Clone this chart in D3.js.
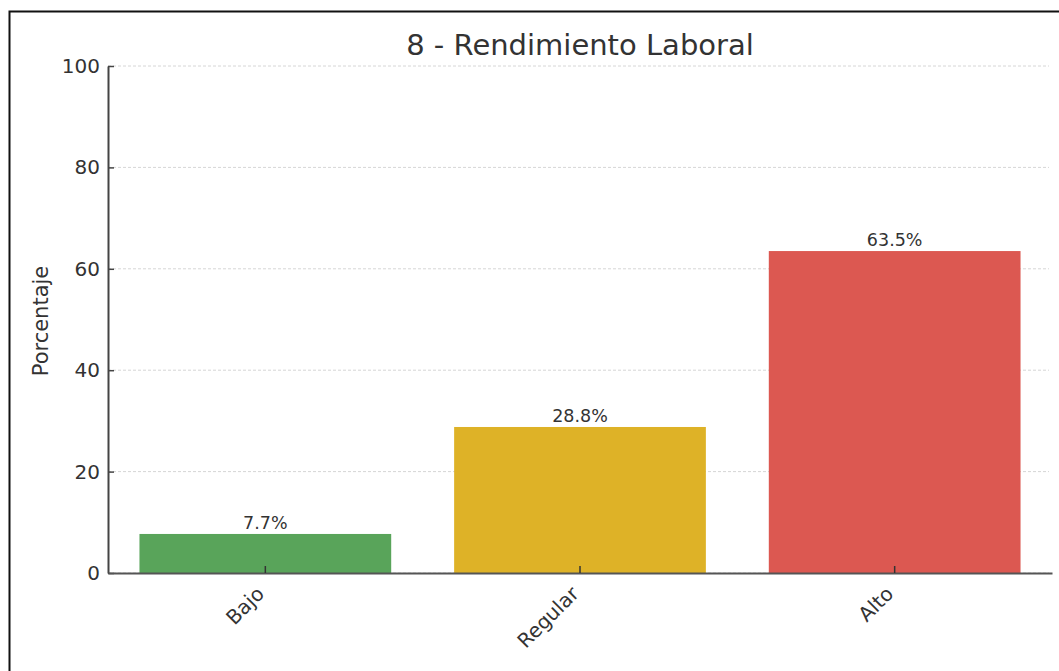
<!DOCTYPE html>
<html>
<head>
<meta charset="utf-8">
<script src="https://cdn.jsdelivr.net/npm/d3@7"></script>
<style>
  body { margin: 0; background: #fff; }
  svg { display: block; font-family: "DejaVu Sans", sans-serif; }
</style>
</head>
<body>
<div id="chart"></div>
<script>
// Datos del gráfico
const categories = ["Bajo", "Regular", "Alto"];
const values = [7.7, 28.8, 63.5];
const barColors = ["#59a45a", "#deb227", "#dc5851"];
const yTicks = [0, 20, 40, 60, 80, 100];
const chartTitle = "8 - Rendimiento Laboral";
const yLabel = "Porcentaje";

const W = 1059, H = 671;
const margin = { top: 66, right: 7, bottom: 98, left: 108 };
const width = W - margin.left - margin.right;
const height = H - margin.top - margin.bottom;

const svg = d3.select("#chart").append("svg")
  .attr("width", W)
  .attr("height", H);

// Marco (solo arriba e izquierda, como en la imagen recortada)
svg.append("path")
  .attr("d", `M9.5,${H} L9.5,11.5 L${W},11.5`)
  .attr("fill", "none")
  .attr("stroke", "#111")
  .attr("stroke-width", 2);

const g = svg.append("g")
  .attr("transform", `translate(${margin.left},${margin.top})`);

const x = d3.scaleBand()
  .domain(categories)
  .range([0, width])
  .paddingInner(0.2)
  .paddingOuter(0.1);

const y = d3.scaleLinear()
  .domain([0, 100])
  .range([height, 0]);

// Líneas de cuadrícula
g.append("g")
  .selectAll("line")
  .data(yTicks)
  .enter()
  .append("line")
  .attr("x1", 0)
  .attr("x2", width - 3)
  .attr("y1", (d) => y(d))
  .attr("y2", (d) => y(d))
  .attr("stroke", "#d6d6d6")
  .attr("stroke-width", 1)
  .attr("stroke-dasharray", "3,2");

// Barras
g.selectAll("rect.bar")
  .data(values)
  .enter()
  .append("rect")
  .attr("class", "bar")
  .attr("x", (d, i) => x(categories[i]))
  .attr("y", (d) => y(d))
  .attr("width", x.bandwidth())
  .attr("height", (d) => height - y(d))
  .attr("fill", (d, i) => barColors[i]);

// Etiquetas de valor
g.selectAll("text.val")
  .data(values)
  .enter()
  .append("text")
  .attr("class", "val")
  .attr("x", (d, i) => x(categories[i]) + x.bandwidth() / 2)
  .attr("y", (d) => y(d) - 5)
  .attr("text-anchor", "middle")
  .attr("font-size", "17.5px")
  .attr("fill", "#333")
  .text((d) => d.toFixed(1) + "%");

// Eje Y
const yAxis = g.append("g")
  .call(d3.axisLeft(y).tickValues(yTicks).tickSizeInner(-6).tickSizeOuter(0).tickPadding(8));
yAxis.select(".domain").attr("stroke", "#444").attr("stroke-width", 2);
yAxis.selectAll(".tick line").attr("stroke", "#444").attr("stroke-width", 1.5);
yAxis.selectAll(".tick text")
  .attr("font-size", "20px")
  .attr("fill", "#333")
  .attr("font-family", "DejaVu Sans, sans-serif");

// Eje X
const xAxis = g.append("g")
  .attr("transform", `translate(0,${height})`)
  .call(d3.axisBottom(x).tickSizeInner(-7).tickSizeOuter(0));
xAxis.select(".domain").attr("stroke", "#555").attr("stroke-width", 2);
xAxis.selectAll(".tick line").attr("stroke", "#333").attr("stroke-width", 1.5);
xAxis.selectAll(".tick text")
  .attr("font-size", "20px")
  .attr("fill", "#333")
  .attr("font-family", "DejaVu Sans, sans-serif")
  .attr("text-anchor", "end")
  .attr("x", 0)
  .attr("y", 0)
  .attr("dy", 0)
  .attr("transform", "translate(0,22) rotate(-45)");

// Título
svg.append("text")
  .attr("x", margin.left + width / 2)
  .attr("y", 55)
  .attr("text-anchor", "middle")
  .attr("font-size", "29px")
  .attr("fill", "#333")
  .text(chartTitle);

// Título del eje Y
svg.append("text")
  .attr("transform", `translate(48,321) rotate(-90)`)
  .attr("text-anchor", "middle")
  .attr("font-size", "21px")
  .attr("fill", "#333")
  .text(yLabel);
</script>
</body>
</html>
